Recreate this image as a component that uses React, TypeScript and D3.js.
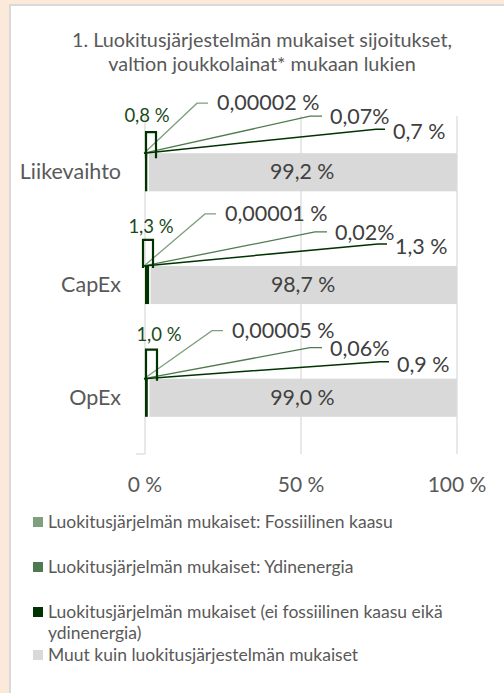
import React from "react";
import * as d3 from "d3";

const categories = ["Liikevaihto", "CapEx", "OpEx"];
const fossilGas = [0.00002, 0.00001, 0.00005];
const nuclear = [0.07, 0.02, 0.06];
const aligned = [0.7, 1.3, 0.9];
const other = [99.2, 98.7, 99.0];
const fossilLabels = ["0,00002 %", "0,00001 %", "0,00005 %"];
const nuclearLabels = ["0,07%", "0,02%", "0,06%"];
const alignedLabels = ["0,7 %", "1,3 %", "0,9 %"];
const otherLabels = ["99,2 %", "98,7 %", "99,0 %"];
const totalLabels = ["0,8 %", "1,3 %", "1,0 %"];
const xTicks = [0, 50, 100];
const titleLines = [
  "1. Luokitusjärjestelmän mukaiset sijoitukset,",
  "valtion joukkolainat* mukaan lukien",
];
const legendItems = [
  ["Luokitusjärjelmän mukaiset: Fossiilinen kaasu"],
  ["Luokitusjärjelmän mukaiset: Ydinenergia"],
  ["Luokitusjärjelmän mukaiset (ei fossiilinen kaasu eikä", "ydinenergia)"],
  ["Muut kuin luokitusjärjestelmän mukaiset"],
];

// layout (label placement offsets relative to bar start / top)
const fossilElbow = [[52, -50], [60, -52], [67, -48]];
const nuclearElbow = [[165, -37], [170, -34], [165, -31]];
const alignedElbow = [[231, -24], [233, -22], [235, -17]];
const boxPos = [[1, 11, -21, 5], [-2, 8, -26, 2], [1, 12, -29, 2]];
const totalPos = [[2, -38], [6, -40], [14, -45]];

const W = 504;
const H = 693;
const FONT = "Lato, 'Open Sans', sans-serif";
const TXT = "#595959";
const C_FOSSIL = "#7F9F7F";
const C_NUC = "#4F7A4F";
const C_ALIGN = "#003300";
const C_OTHER = "#D9D9D9";
const C_LABELGREEN = "#1A4A1A";

export default function App() {
  const x = d3.scaleLinear().domain([0, 100]).range([145, 457]);
  const y = d3
    .scaleBand()
    .domain(categories)
    .range([116, 454])
    .paddingInner(0.662)
    .paddingOuter(0.33);
  const bh = y.bandwidth();

  const legendColors = [C_FOSSIL, C_NUC, C_ALIGN, C_OTHER];
  const legendY = [522, 567, 612, 655];

  return (
    <svg
      width={W}
      height={H}
      style={{ position: "absolute", left: 0, top: 0 }}
      fontFamily={FONT}
    >
      <rect x={0} y={0} width={W} height={H} fill="#FBE9D9" />
      <rect x={10} y={5} width={W} height={H} fill="#FFFFFF" stroke="#D9D9D9" strokeWidth={2} />

      {titleLines.map((t, i) => (
        <text key={i} x={262} y={47 + i * 23.5} textAnchor="middle" fontSize={19.8} fill={TXT}>
          {t}
        </text>
      ))}

      {/* gridlines */}
      {xTicks.map((t) => (
        <line key={t} x1={x(t)} x2={x(t)} y1={116} y2={454} stroke="#D9D9D9" strokeWidth={1.2} />
      ))}
      <line x1={136} x2={x(0)} y1={454} y2={454} stroke="#D9D9D9" strokeWidth={1.2} />

      {xTicks.map((t) => (
        <text key={t} x={x(t)} y={492} textAnchor="middle" fontSize={21} fill={TXT}>
          {`${t} %`}
        </text>
      ))}

      {categories.map((c, i) => {
        const top = y(c)!;
        const x0 = x(0);
        const a1 = x(aligned[i]);
        const n1 = x(aligned[i] + nuclear[i]);
        const f1 = x(aligned[i] + nuclear[i] + fossilGas[i]);
        const o1 = x(aligned[i] + nuclear[i] + fossilGas[i] + other[i]);
        const fe = fossilElbow[i];
        const ne = nuclearElbow[i];
        const ae = alignedElbow[i];
        const bp = boxPos[i];
        const tp = totalPos[i];
        const ox = x0 - 1;
        return (
          <g key={c}>
            <text x={121} y={top + bh / 2 + 7} textAnchor="end" fontSize={21.5} fill={TXT}>
              {c}
            </text>
            <rect x={x0} y={top} width={a1 - x0} height={bh} fill={C_ALIGN} />
            <rect x={a1} y={top} width={n1 - a1} height={bh} fill={C_NUC} />
            <rect x={n1} y={top} width={f1 - n1} height={bh} fill={C_FOSSIL} />
            <rect x={f1 + 1.5} y={top} width={o1 - f1 - 1.5} height={bh} fill={C_OTHER} />
            <text x={(f1 + o1) / 2} y={top + bh / 2 + 7} textAnchor="middle" fontSize={21.3} fill="#404040">
              {otherLabels[i]}
            </text>

            {/* leader lines */}
            <polyline
              points={`${ox},${top} ${x0 + fe[0]},${top + fe[1]} ${x0 + fe[0] + 11},${top + fe[1]}`}
              fill="none"
              stroke={C_FOSSIL}
              strokeWidth={1.3}
            />
            <text x={x0 + fe[0] + 20} y={top + fe[1] + 7} fontSize={21.5} fill="#404040">
              {fossilLabels[i]}
            </text>
            <polyline
              points={`${ox},${top} ${x0 + ne[0]},${top + ne[1]} ${x0 + ne[0] + 12},${top + ne[1]}`}
              fill="none"
              stroke={C_NUC}
              strokeWidth={1.3}
            />
            <text x={x0 + ne[0] + 20} y={top + ne[1] + 8} fontSize={21.5} fill="#404040">
              {nuclearLabels[i]}
            </text>
            <polyline
              points={`${ox},${top} ${x0 + ae[0]},${top + ae[1]} ${x0 + ae[0] + 9},${top + ae[1]}`}
              fill="none"
              stroke={C_ALIGN}
              strokeWidth={1.5}
            />
            <text x={x0 + ae[0] + 17} y={top + ae[1] + 10} fontSize={21.5} fill="#404040">
              {alignedLabels[i]}
            </text>

            {/* total box */}
            <path
              d={`M${x0 + bp[0]},${top + bp[3]} V${top + bp[2]} H${x0 + bp[1]} V${top + bp[3]}`}
              fill="none"
              stroke={C_ALIGN}
              strokeWidth={2.2}
            />
            <text x={x0 + tp[0]} y={top + tp[1] + 7} textAnchor="middle" fontSize={18.5} fill={C_LABELGREEN}>
              {totalLabels[i]}
            </text>
          </g>
        );
      })}

      {legendItems.map((lines, i) => (
        <g key={i}>
          <rect x={33} y={legendY[i] - 5} width={10} height={10} fill={legendColors[i]} />
          {lines.map((l, j) => (
            <text key={j} x={48} y={legendY[i] + 6 + j * 21} fontSize={17.5} fill={TXT}>
              {l}
            </text>
          ))}
        </g>
      ))}
    </svg>
  );
}
